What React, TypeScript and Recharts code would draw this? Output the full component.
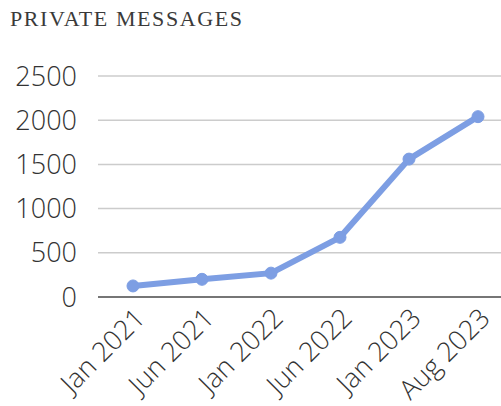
import React from "react";
import { LineChart, Line, XAxis, YAxis, CartesianGrid } from "recharts";

const categories = ["Jan 2021", "Jun 2021", "Jan 2022", "Jun 2022", "Jan 2023", "Aug 2023"];
const messages = [125, 200, 270, 675, 1560, 2040];
const yTicks = [0, 500, 1000, 1500, 2000, 2500];

const data = categories.map((c, i) => ({ month: c, value: messages[i] }));

const FONT = "'Open Sans', sans-serif";

const XTick = (props: any) => {
  const { x, y, payload } = props;
  return (
    <g transform={`translate(${x + 1},${y + 2})`}>
      <text
        transform="rotate(-45)"
        textAnchor="end"
        x={0}
        y={0}
        dy={18}
        fontFamily={FONT}
        fontSize={27}
        fontWeight={300}
        fill="#333"
      >
        {payload.value}
      </text>
    </g>
  );
};

export default function App() {
  return (
    <div style={{ position: "absolute", left: 0, top: 0, width: 501, height: 406, background: "#fff" }}>
      <div
        style={{
          position: "absolute",
          left: 10,
          top: 6,
          fontFamily: "'Liberation Serif', serif",
          fontSize: 22,
          letterSpacing: 1.6,
          color: "#3a3a3a",
          whiteSpace: "nowrap",
        }}
      >
        PRIVATE MESSAGES
      </div>
      <LineChart width={501} height={406} data={data} margin={{ top: 76, right: 0, bottom: 0, left: 0 }}>
        <CartesianGrid horizontal vertical={false} stroke="#cccccc" strokeWidth={1.5} />
        <XAxis
          dataKey="month"
          scale="point"
          padding={{ left: 35, right: 23 }}
          height={109}
          interval={0}
          tickLine={false}
          axisLine={{ stroke: "#555", strokeWidth: 1.5 }}
          tick={<XTick />}
        />
        <YAxis
          width={98}
          domain={[0, 2500]}
          ticks={yTicks}
          interval={0}
          axisLine={false}
          tickLine={false}
          tickSize={0}
          tickMargin={21}
          tick={{ fontFamily: FONT, fontSize: 27, fontWeight: 300, fill: "#333" }}
        />
        <Line
          type="linear"
          dataKey="value"
          stroke="#7d9ee3"
          strokeWidth={6}
          dot={{ r: 6, fill: "#7d9ee3", stroke: "#7d9ee3", strokeWidth: 1 }}
          isAnimationActive={false}
        />
      </LineChart>
    </div>
  );
}
